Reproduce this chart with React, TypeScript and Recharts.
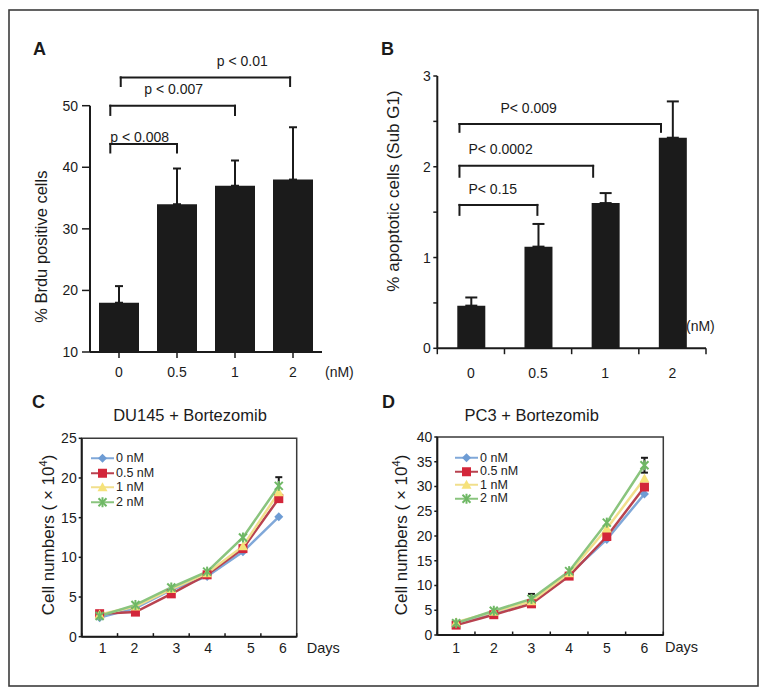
import React from "react";
import {
  BarChart,
  Bar,
  LineChart,
  Line,
  XAxis,
  YAxis,
  ErrorBar,
  ReferenceLine,
  ReferenceArea,
  Legend,
} from "recharts";

const FONT = '"Liberation Sans", Arial, Helvetica, sans-serif';
const INK = "#1b1b1b";

// A / B: dose groups (nM)
const doseLabels = ["0", "0.5", "1", "2"];
const brduMean = [18, 34, 37, 38];
const brduSd = [2.7, 5.8, 4.1, 8.5];
const subG1Mean = [0.47, 1.12, 1.6, 2.32];
const subG1Sd = [0.09, 0.25, 0.11, 0.4];
const doseEdges = [-0.5, 0.5, 1.5, 2.5, 3.5];

// C / D: growth curves, cells x 10^4
const days = [1, 2, 3, 4, 5, 6];
const dayEdges = [0.5, 1.5, 2.5, 3.5, 4.5, 5.5, 6.5];
const seriesNames = ["0 nM", "0.5 nM", "1 nM", "2 nM"];
const du145Dose0 = [2.4, 3.6, 5.9, 7.6, 10.7, 15.1];
const du145Dose05 = [2.9, 3.1, 5.4, 7.8, 11.1, 17.4];
const du145Dose1 = [2.8, 3.8, 6.0, 8.0, 11.4, 18.2];
const du145Dose2 = [2.6, 4.0, 6.2, 8.2, 12.5, 19.0];
const du145Dose2Sd = [0, 0, 0, 0, 0, 1.1];
const pc3Dose0 = [2.5, 4.5, 6.8, 12.2, 19.3, 28.5];
const pc3Dose05 = [2.0, 4.1, 6.3, 11.9, 19.9, 29.9];
const pc3Dose1 = [2.6, 4.7, 6.8, 12.5, 21.5, 31.6];
const pc3Dose2 = [2.4, 4.9, 7.3, 12.9, 22.7, 34.3];
const pc3Dose2Sd = [0, 0, 1.0, 0, 0, 1.5];

// significance brackets (x in group index, y in axis units)
const brduBrackets = [
  { from: -0.15, to: 1, y: 43.8, leg: 42.4, text: "p < 0.008", dx: 0, lift: 2 },
  { from: -0.15, to: 2, y: 50, leg: 48.5, text: "p < 0.007", dx: 34, lift: 11.5 },
  { from: 0.03, to: 2.95, y: 54.6, leg: 53.2, text: "p < 0.01", dx: 96, lift: 11.5 },
];
const subG1Brackets = [
  { from: -0.17, to: 0.99, y: 1.58, leg: 1.47, text: "P< 0.15", dx: 9, lift: 11 },
  { from: -0.17, to: 1.82, y: 2.01, leg: 1.89, text: "P< 0.0002", dx: 9, lift: 12 },
  { from: -0.17, to: 2.83, y: 2.47, leg: 2.385, text: "P< 0.009", dx: 41, lift: 11 },
];

const SERIES_STYLE = [
  { key: "d0", line: "#80a8d9", fill: "#6e9cd4", shape: "diamond" },
  { key: "d05", line: "#b8424f", fill: "#d3263a", shape: "square" },
  { key: "d1", line: "#f1df8c", fill: "#f6e27a", shape: "triangle" },
  { key: "d2", line: "#8ac47e", fill: "#6fb865", shape: "star" },
];

const brduRows = doseLabels.map((d, i) => ({
  idx: i,
  dose: d,
  value: brduMean[i],
  err: [0, brduSd[i]],
}));
const subG1Rows = doseLabels.map((d, i) => ({
  idx: i,
  dose: d,
  value: subG1Mean[i],
  err: [0, subG1Sd[i]],
}));
const du145Rows = days.map((day, i) => ({
  day,
  d0: du145Dose0[i],
  d05: du145Dose05[i],
  d1: du145Dose1[i],
  d2: du145Dose2[i],
  d2Err: du145Dose2Sd[i],
}));
const pc3Rows = days.map((day, i) => ({
  day,
  d0: pc3Dose0[i],
  d05: pc3Dose05[i],
  d1: pc3Dose1[i],
  d2: pc3Dose2[i],
  d2Err: pc3Dose2Sd[i],
}));

function Marker({ shape, x, y, fill, s = 1 }: any) {
  if (shape === "diamond") {
    const r = 4.5 * s;
    return <polygon points={`${x},${y - r} ${x + r},${y} ${x},${y + r} ${x - r},${y}`} fill={fill} />;
  }
  if (shape === "square") {
    const r = 4.5 * s;
    return <rect x={x - r} y={y - r} width={2 * r} height={2 * r} fill={fill} />;
  }
  if (shape === "triangle") {
    const r = 5 * s;
    return <polygon points={`${x},${y - r} ${x + r},${y + r * 0.8} ${x - r},${y + r * 0.8}`} fill={fill} />;
  }
  const r = 4 * s;
  return (
    <g stroke={fill} strokeWidth={2}>
      <line x1={x - r} y1={y - r} x2={x + r} y2={y + r} />
      <line x1={x - r} y1={y + r} x2={x + r} y2={y - r} />
      <line x1={x} y1={y - r - 1} x2={x} y2={y + r + 1} />
    </g>
  );
}

const makeDot = (st: any) => (p: any) => {
  if (p.cx == null || p.cy == null) return <g key={p.index} />;
  return <Marker key={p.index} shape={st.shape} x={p.cx} y={p.cy} fill={st.fill} />;
};

const makeLegend = (rowH: number) => (props: any) => {
  const items = props.payload || [];
  return (
    <div style={{ fontFamily: FONT, fontSize: 12.5, color: "#222", lineHeight: 1 }}>
      {items.map((it: any) => {
        const st = SERIES_STYLE.find((s) => s.key === it.dataKey) || SERIES_STYLE[0];
        return (
          <div key={it.value} style={{ display: "flex", alignItems: "center", height: rowH }}>
            <svg width={24} height={rowH} style={{ display: "block" }}>
              <line x1={0} x2={23} y1={rowH / 2} y2={rowH / 2} stroke={st.line} strokeWidth={2} />
              <Marker shape={st.shape} x={11.5} y={rowH / 2} fill={st.fill} />
            </svg>
            <span style={{ marginLeft: 1 }}>{it.value}</span>
          </div>
        );
      })}
    </div>
  );
};

function bracketLines(list: any[]) {
  return list.flatMap((b, i) => [
    <ReferenceLine
      key={`h${i}`}
      segment={[{ x: b.from, y: b.y }, { x: b.to, y: b.y }]}
      ifOverflow="visible"
      stroke={INK}
      strokeWidth={2}
      strokeLinecap="square"
      label={(p: any) => {
        const vb = (p && p.viewBox) || {};
        return (
          <text
            x={(vb.x ?? 0) + b.dx}
            y={(vb.y ?? 0) - b.lift}
            fontSize={14}
            fontFamily={FONT}
            fill={INK}
          >
            {b.text}
          </text>
        );
      }}
    />,
    <ReferenceLine
      key={`l${i}`}
      segment={[{ x: b.from, y: b.y }, { x: b.from, y: b.leg }]}
      ifOverflow="visible"
      stroke={INK}
      strokeWidth={2}
      strokeLinecap="square"
    />,
    <ReferenceLine
      key={`r${i}`}
      segment={[{ x: b.to, y: b.y }, { x: b.to, y: b.leg }]}
      ifOverflow="visible"
      stroke={INK}
      strokeWidth={2}
      strokeLinecap="square"
    />,
  ]);
}

// tick marks between groups (Excel style), drawn from the axis base
function edgeTicks(edges: number[], base: number, tip: number) {
  return edges.map((e) => (
    <ReferenceLine
      key={`e${e}`}
      segment={[{ x: e, y: base }, { x: e, y: tip }]}
      ifOverflow="visible"
      stroke={INK}
      strokeWidth={1.5}
    />
  ));
}

const tickStyle = { fill: INK, fontSize: 14, fontFamily: FONT };
const axisStroke = { stroke: INK, strokeWidth: 2 };

// the DU145 day labels sit a little off their points in the original
const du145LabelNudge = [3, -1, 5, 1, 8, 4];

const nudgedTick = (nudge: number[]) => (p: any) => (
  <text
    x={p.x + (nudge[p.index] || 0)}
    y={p.y}
    dy="0.71em"
    textAnchor="middle"
    fontSize={14}
    fontFamily={FONT}
    fill={INK}
  >
    {p.payload.value}
  </text>
);

function BrduChart() {
  return (
    <BarChart
      width={390}
      height={390}
      data={brduRows}
      margin={{ top: 105.7, right: 68, bottom: 8, left: 40 }}
    >
      <XAxis
        dataKey="idx"
        type="number"
        domain={[-0.5, 3.5]}
        ticks={[0, 1, 2, 3]}
        interval={0}
        tickFormatter={(v: number) => doseLabels[v]}
        height={30}
        tickSize={6}
        tickMargin={9}
        axisLine={axisStroke}
        tickLine={{ stroke: INK, strokeWidth: 1.5 }}
        tick={tickStyle}
      />
      <YAxis
        type="number"
        domain={[10, 50]}
        ticks={[10, 20, 30, 40, 50]}
        interval={0}
        width={50}
        tickSize={8}
        tickMargin={4}
        axisLine={axisStroke}
        tickLine={{ stroke: INK, strokeWidth: 1.5 }}
        tick={tickStyle}
      />
      <Bar dataKey="value" fill={INK} barSize={40} isAnimationActive={false}>
        <ErrorBar dataKey="err" direction="y" width={4} stroke={INK} strokeWidth={2} />
      </Bar>
      {bracketLines(brduBrackets)}
    </BarChart>
  );
}

function SubG1Chart() {
  return (
    <BarChart
      width={388}
      height={390}
      data={subG1Rows}
      margin={{ top: 76, right: 62, bottom: 11.7, left: 17.3 }}
    >
      <XAxis
        dataKey="idx"
        type="number"
        domain={[-0.5, 3.5]}
        ticks={[0, 1, 2, 3]}
        interval={0}
        tickFormatter={(v: number) => doseLabels[v]}
        height={30}
        tickSize={0}
        tickMargin={19.4}
        axisLine={axisStroke}
        tickLine={false}
        tick={tickStyle}
      />
      <YAxis
        type="number"
        domain={[0, 3]}
        ticks={[0, 0.5, 1, 1.5, 2, 2.5, 3]}
        interval={0}
        tickFormatter={(v: number) => (Number.isInteger(v) ? String(v) : "")}
        width={40}
        tickSize={4}
        tickMargin={2.6}
        axisLine={axisStroke}
        tickLine={{ stroke: INK, strokeWidth: 1.5 }}
        tick={tickStyle}
      />
      {edgeTicks(doseEdges, 0, -0.065)}
      <Bar dataKey="value" fill={INK} barSize={28} isAnimationActive={false}>
        <ErrorBar dataKey="err" direction="y" width={6} stroke={INK} strokeWidth={2} />
      </Bar>
      {bracketLines(subG1Brackets)}
    </BarChart>
  );
}

function GrowthChart({ rows, width, margin, yMax, yTicks, labelGap, legendLeft, rowH, tickTip, nudge }: any) {
  return (
    <LineChart width={width} height={306} data={rows} margin={margin}>
      <XAxis
        dataKey="day"
        type="number"
        domain={[0.5, 6.5]}
        ticks={days}
        interval={0}
        height={30}
        tickSize={0}
        tickMargin={labelGap}
        axisLine={axisStroke}
        tickLine={false}
        tick={nudge ? nudgedTick(nudge) : tickStyle}
      />
      <YAxis
        type="number"
        domain={[0, yMax]}
        ticks={yTicks}
        interval={0}
        width={40}
        tickSize={3}
        tickMargin={2}
        axisLine={axisStroke}
        tickLine={{ stroke: INK, strokeWidth: 1.5 }}
        tick={tickStyle}
      />
      <ReferenceArea
        x1={0.5}
        x2={6.5}
        y1={0}
        y2={yMax}
        fill="none"
        stroke="#3a3a3a"
        strokeWidth={1.5}
        ifOverflow="visible"
      />
      {edgeTicks(dayEdges, 0, tickTip)}
      {SERIES_STYLE.map((st, i) => (
        <Line
          key={st.key}
          dataKey={st.key}
          name={seriesNames[i]}
          stroke={st.line}
          strokeWidth={2.5}
          dot={makeDot(st)}
          activeDot={false}
          isAnimationActive={false}
        >
          {st.key === "d2" ? (
            <ErrorBar dataKey="d2Err" direction="y" width={3.5} stroke={INK} strokeWidth={2} />
          ) : null}
        </Line>
      ))}
      <Legend
        layout="vertical"
        align="center"
        verticalAlign="middle"
        wrapperStyle={{ left: legendLeft, top: 61, width: "auto", height: "auto" }}
        content={makeLegend(rowH)}
      />
    </LineChart>
  );
}

export default function App() {
  const abs = (left: number, top: number): React.CSSProperties => ({ position: "absolute", left, top });
  return (
    <div
      style={{
        position: "absolute",
        left: 0,
        top: 0,
        width: 768,
        height: 696,
        background: "#fff",
        fontFamily: FONT,
        overflow: "hidden",
      }}
    >
      <div style={abs(0, 0)}>
        <BrduChart />
      </div>
      <div style={abs(380, 0)}>
        <SubG1Chart />
      </div>
      <div style={abs(0, 390)}>
        <GrowthChart
          rows={du145Rows}
          width={380}
          margin={{ top: 48.3, right: 83.3, bottom: 29.3, left: 41.7 }}
          yMax={25}
          yTicks={[0, 5, 10, 15, 20, 25]}
          labelGap={6.6}
          legendLeft={91}
          rowH={14.5}
          tickTip={0.45}
          nudge={du145LabelNudge}
        />
      </div>
      <div style={abs(380, 390)}>
        <GrowthChart
          rows={pc3Rows}
          width={388}
          margin={{ top: 47, right: 104.7, bottom: 31, left: 17.3 }}
          yMax={40}
          yTicks={[0, 5, 10, 15, 20, 25, 30, 35, 40]}
          labelGap={8.3}
          legendLeft={75}
          rowH={13.5}
          tickTip={0.7}
        />
      </div>
      <svg
        width={768}
        height={696}
        style={{ position: "absolute", left: 0, top: 0, pointerEvents: "none" }}
        fontFamily={FONT}
        fill={INK}
      >
        <rect x={9} y={10} width={749} height={676} fill="none" stroke="#3c3c3c" strokeWidth={1.6} />
        <text x={33} y={55} fontSize={18} fontWeight="bold">A</text>
        <text x={381} y={55} fontSize={18} fontWeight="bold">B</text>
        <text x={32} y={408} fontSize={18} fontWeight="bold">C</text>
        <text x={382} y={408} fontSize={18} fontWeight="bold">D</text>

        <text transform="translate(47,246.7) rotate(-90)" textAnchor="middle" fontSize={16.5}>
          % Brdu positive cells
        </text>
        <text transform="translate(398.5,191) rotate(-90)" textAnchor="middle" fontSize={17}>
          % apoptotic cells (Sub G1)
        </text>
        <text transform="translate(53.5,535) rotate(-90)" textAnchor="middle" fontSize={17}>
          Cell numbers ( × 10<tspan dy={-7} fontSize={11}>4</tspan><tspan dy={7}>)</tspan>
        </text>
        <text transform="translate(406.5,535) rotate(-90)" textAnchor="middle" fontSize={17}>
          Cell numbers ( × 10<tspan dy={-7} fontSize={11}>4</tspan><tspan dy={7}>)</tspan>
        </text>

        <text x={325} y={377} fontSize={14}>(nM)</text>
        <text x={686} y={331} fontSize={14}>(nM)</text>

        <text x={190} y={421} textAnchor="middle" fontSize={16.5}>DU145 + Bortezomib</text>
        <text x={531.7} y={421} textAnchor="middle" fontSize={16.5}>PC3 + Bortezomib</text>

        <text x={306.7} y={653} fontSize={14.5}>Days</text>
        <text x={665} y={652} fontSize={14.5}>Days</text>
      </svg>
    </div>
  );
}
